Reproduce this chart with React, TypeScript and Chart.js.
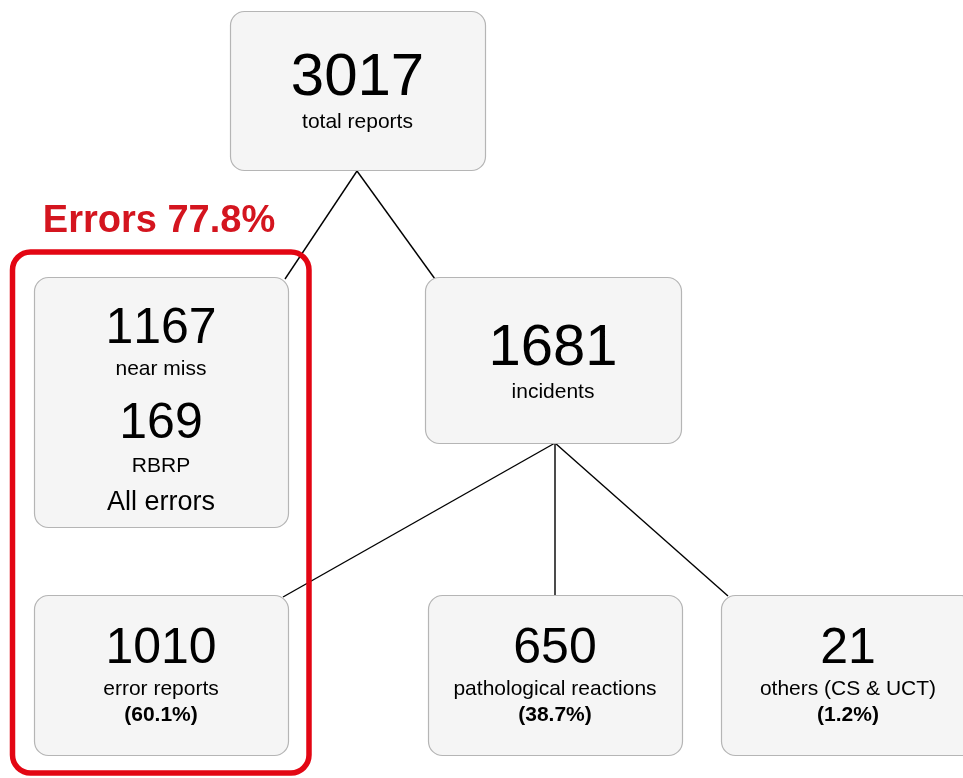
import React, { useEffect, useRef } from "react";
import { Chart, registerables } from "chart.js";

Chart.register(...registerables);

// ---- data ----
const nodeIds = ["total", "nearMiss", "incidents", "errorReports", "patho", "others"];
const nodeValues = ["3017", "1167", "1681", "1010", "650", "21"];
const nodeLabels = ["total reports", "near miss", "incidents", "error reports", "pathological reactions", "others (CS & UCT)"];
const nodePercents = ["", "", "", "(60.1%)", "(38.7%)", "(1.2%)"];
const rbrpValue = "169";
const rbrpLabel = "RBRP";
const allErrorsLabel = "All errors";
const errorsTitle = "Errors 77.8%";
const edges: [string, string][] = [
  ["total", "nearMiss"],
  ["total", "incidents"],
  ["incidents", "errorReports"],
  ["incidents", "patho"],
  ["incidents", "others"],
];

// ---- layout (data-space coordinates, x right, y down) ----
const boxLayout: Record<string, { x: number; y: number; w: number; h: number }> = {
  total: { x: 230, y: 11, w: 255, h: 159 },
  nearMiss: { x: 34, y: 277, w: 254, h: 250 },
  incidents: { x: 425, y: 277, w: 256, h: 166 },
  errorReports: { x: 34, y: 595, w: 254, h: 160 },
  patho: { x: 428, y: 595, w: 254, h: 160 },
  others: { x: 721, y: 595, w: 254, h: 160 },
};
const edgeEnds: Record<string, [number, number, number, number]> = {
  "total-nearMiss": [357, 171, 285, 279],
  "total-incidents": [357, 171, 435, 279],
  "incidents-errorReports": [555, 443, 283, 597],
  "incidents-patho": [555, 443, 555, 595],
  "incidents-others": [555, 443, 728, 596],
};
const FONT = "'Liberation Sans', Arial, Helvetica, sans-serif";

export default function App() {
  const ref = useRef<HTMLCanvasElement | null>(null);
  useEffect(() => {
    if (!ref.current) return;
    const edgeSets = edges.map(([a, b]) => {
      const e = edgeEnds[a + "-" + b];
      return {
        type: "line" as const,
        label: a + "-" + b,
        data: [
          { x: e[0], y: e[1] },
          { x: e[2], y: e[3] },
        ],
        showLine: true,
        borderColor: "#000",
        borderWidth: 1.4,
        pointRadius: 0,
        fill: false,
      };
    });

    const treePlugin = {
      id: "tree",
      afterDatasetsDraw(chart: any) {
        const ctx: CanvasRenderingContext2D = chart.ctx;
        const sx = chart.scales.x;
        const sy = chart.scales.y;
        const X = (v: number) => sx.getPixelForValue(v);
        const Y = (v: number) => sy.getPixelForValue(v);
        const rr = (x: number, y: number, w: number, h: number, r: number) => {
          ctx.beginPath();
          ctx.moveTo(x + r, y);
          ctx.lineTo(x + w - r, y);
          ctx.arcTo(x + w, y, x + w, y + r, r);
          ctx.lineTo(x + w, y + h - r);
          ctx.arcTo(x + w, y + h, x + w - r, y + h, r);
          ctx.lineTo(x + r, y + h);
          ctx.arcTo(x, y + h, x, y + h - r, r);
          ctx.lineTo(x, y + r);
          ctx.arcTo(x, y, x + r, y, r);
          ctx.closePath();
        };
        const text = (s: string, x: number, y: number, size: number, bold = false, color = "#000") => {
          ctx.font = (bold ? "bold " : "") + size + "px " + FONT;
          (ctx as any).fontKerning = "none";
          ctx.fillStyle = color;
          ctx.textAlign = "center";
          ctx.textBaseline = "alphabetic";
          ctx.fillText(s, x, y);
        };
        ctx.save();
        // boxes
        nodeIds.forEach((id) => {
          const b = boxLayout[id];
          const x0 = X(b.x), y0 = Y(b.y), x1 = X(b.x + b.w), y1 = Y(b.y + b.h);
          rr(x0 + 0.5, y0 + 0.5, x1 - x0, y1 - y0, 14);
          ctx.fillStyle = "#f5f5f5";
          ctx.fill();
          ctx.strokeStyle = "#b5b5b5";
          ctx.lineWidth = 1.2;
          ctx.stroke();
        });
        // texts
        nodeIds.forEach((id, i) => {
          const b = boxLayout[id];
          const cx = X(b.x + b.w / 2);
          if (id === "total") {
            text(nodeValues[i], cx, Y(95), 60);
            text(nodeLabels[i], cx, Y(128), 21);
          } else if (id === "incidents") {
            text(nodeValues[i], cx, Y(365), 58);
            text(nodeLabels[i], cx, Y(398), 21);
          } else if (id === "nearMiss") {
            text(nodeValues[i], cx, Y(343), 50);
            text(nodeLabels[i], cx, Y(375), 21);
            text(rbrpValue, cx, Y(438), 50);
            text(rbrpLabel, cx, Y(472), 21);
            text(allErrorsLabel, cx, Y(510), 27);
          } else {
            text(nodeValues[i], cx, Y(663), 50);
            text(nodeLabels[i], cx, Y(695), 21);
            text(nodePercents[i], cx, Y(721), 21, true);
          }
        });
        // red error frame
        rr(X(12.5), Y(252), X(309) - X(12.5), Y(773) - Y(252), 18);
        ctx.strokeStyle = "#e30613";
        ctx.lineWidth = 5.5;
        ctx.stroke();
        text(errorsTitle, X(159), Y(232), 38, true, "#d4151f");
        ctx.restore();
      },
    };

    const chart = new Chart(ref.current, {
      type: "scatter",
      data: { datasets: edgeSets as any },
      options: {
        animation: false,
        responsive: false,
        events: [],
        layout: { padding: 0 },
        plugins: { legend: { display: false }, tooltip: { enabled: false } },
        scales: {
          x: { type: "linear", min: 0, max: 963, display: false },
          y: { type: "linear", min: 0, max: 778, reverse: true, display: false },
        },
      },
      plugins: [treePlugin],
    });
    return () => chart.destroy();
  }, []);

  return (
    <div style={{ position: "fixed", left: 0, top: 0, width: 963, height: 778, background: "#fff" }}>
      <canvas ref={ref} width={963} height={778} style={{ display: "block" }} />
    </div>
  );
}
